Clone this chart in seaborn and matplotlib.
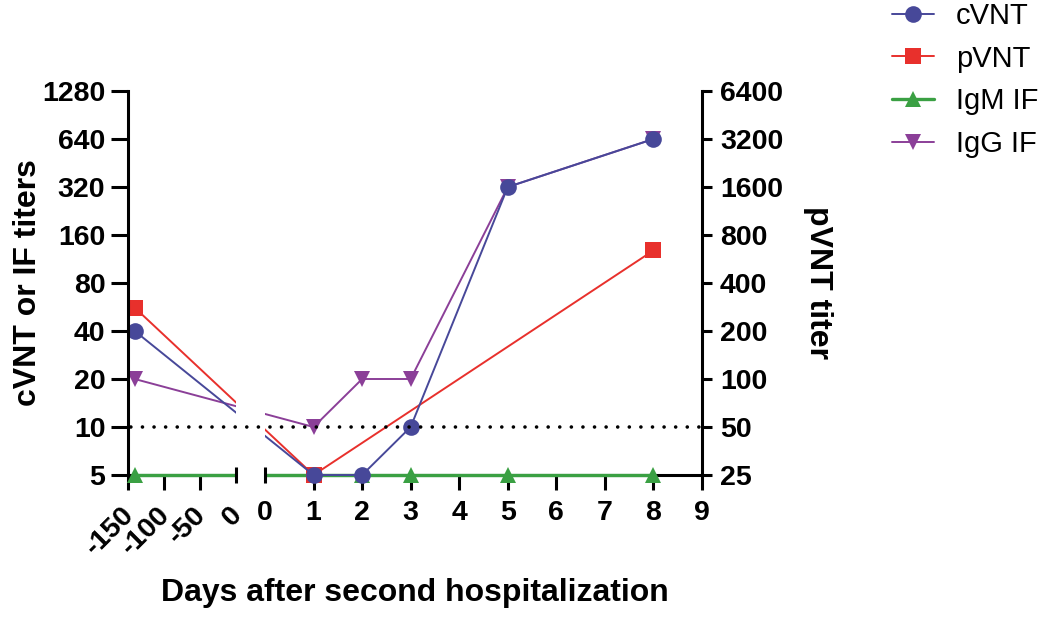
import numpy as np
import pandas as pd
import matplotlib
matplotlib.use("Agg")
import matplotlib.pyplot as plt
import matplotlib.transforms as mtransforms
from matplotlib.patches import Rectangle
from matplotlib.ticker import NullLocator
import seaborn as sns

# data
series_names = ["cVNT", "pVNT", "IgM IF", "IgG IF"]
cvnt_days = [-140, 1, 2, 3, 5, 8]
cvnt_titer = [40, 5, 5, 10, 320, 640]
pvnt_days = [-140, 1, 8]
pvnt_titer = [280, 25, 640]
igm_days = [-140, 1, 2, 3, 5, 8]
igm_titer = [5, 5, 5, 5, 5, 5]
igg_days = [-140, 1, 2, 3, 5, 8]
igg_titer = [20, 10, 20, 20, 320, 640]

left_x_ticks = [-150, -100, -50, 0]
right_x_ticks = [0, 1, 2, 3, 4, 5, 6, 7, 8, 9]
left_y_ticks = [5, 10, 20, 40, 80, 160, 320, 640, 1280]
right_y_ticks = [25, 50, 100, 200, 400, 800, 1600, 3200, 6400]
cutoff = 10
pvnt_factor = 5  # right axis is 5x the left axis

colors = {"cVNT": "#474899", "pVNT": "#e8302c", "IgM IF": "#3aa043", "IgG IF": "#8b3f98"}
markers = {"cVNT": "o", "pVNT": "s", "IgM IF": "^", "IgG IF": "v"}

# broken x axis: two segments laid out side by side
W_LEFT, W_GAP, W_RIGHT = 108.5, 29.0, 437.0


def pos_left(d):
    return (d + 150) / 150 * W_LEFT


def pos_right(d):
    return W_LEFT + W_GAP + d / 9 * W_RIGHT


def pos(d):
    return pos_left(d) if d < 0 else pos_right(d)


rows = []
for name, days, vals, scale in [
    ("cVNT", cvnt_days, cvnt_titer, 1),
    ("pVNT", pvnt_days, pvnt_titer, pvnt_factor),
    ("IgM IF", igm_days, igm_titer, 1),
    ("IgG IF", igg_days, igg_titer, 1),
]:
    for d, v in zip(days, vals):
        rows.append({"series": name, "day": d, "pos": pos(d), "val": v / scale})
df = pd.DataFrame(rows)

sns.set_theme(style="ticks")
plt.rcParams["font.family"] = ["Liberation Sans", "DejaVu Sans"]
plt.rcParams["axes.linewidth"] = 2.2
plt.rcParams["text.color"] = "black"
plt.rcParams["axes.labelcolor"] = "black"
plt.rcParams["xtick.color"] = "black"
plt.rcParams["ytick.color"] = "black"

fig = plt.figure(figsize=(10.55, 6.17), dpi=100)
ax = fig.add_axes([127.5 / 1055, 142 / 617, 574.5 / 1055, 384 / 617])

draw_order = ["IgG IF", "IgM IF", "pVNT", "cVNT"]
sns.lineplot(data=df, x="pos", y="val", hue="series", style="series",
             hue_order=draw_order, style_order=draw_order, palette=colors,
             markers=markers, dashes=False, markersize=12, markeredgewidth=0,
             linewidth=1.4, sort=False, estimator=None, clip_on=False, ax=ax)
for line in ax.lines:
    if line.get_color() == colors["IgM IF"]:
        line.set_linewidth(2.4)

ax.set_yscale("log", base=2)
ax.set_ylim(5, 1280)
ax.set_yticks(left_y_ticks)
ax.set_yticklabels([str(v) for v in left_y_ticks])
ax.yaxis.set_minor_locator(NullLocator())
ax.set_xlim(0, W_LEFT + W_GAP + W_RIGHT)

xt = [pos_left(d) for d in left_x_ticks] + [pos_right(d) for d in right_x_ticks]
ax.set_xticks(xt)
ax.set_xticklabels([str(d) for d in left_x_ticks] + [str(d) for d in right_x_ticks])
ticks = ax.xaxis.get_major_ticks()
ticks[len(left_x_ticks) - 1].tick1line.set_visible(False)
ticks[len(left_x_ticks)].tick1line.set_visible(False)

ax.tick_params(axis="y", length=12, width=2.2, pad=4, labelsize=20.5, color="black")
ax.tick_params(axis="x", length=11, width=2.2, pad=7, labelsize=20.5, color="black")
shift = mtransforms.ScaledTranslation(-5 / 72, -1 / 72, fig.dpi_scale_trans)
for i, lab in enumerate(ax.get_xticklabels()):
    lab.set_fontweight("bold")
    if i < len(left_x_ticks):
        lab.set_rotation(45)
        lab.set_ha("right")
        lab.set_va("top")
        lab.set_rotation_mode("anchor")
        lab.set_transform(lab.get_transform() + shift)
for lab in ax.get_yticklabels():
    lab.set_fontweight("bold")

for s in ["top", "right", "bottom"]:
    ax.spines[s].set_visible(False)
ax.spines["left"].set_color("black")

# bottom axis segments with caps at the break
blend = mtransforms.blended_transform_factory(ax.transData, ax.transAxes)
ax.plot([pos_left(-150), pos_left(0)], [0, 0], color="black", lw=2.2,
        transform=blend, clip_on=False, zorder=1.5, solid_capstyle="butt")
ax.plot([pos_right(0), pos_right(9)], [0, 0], color="black", lw=2.2,
        transform=blend, clip_on=False, zorder=1.5, solid_capstyle="butt")
ax.add_patch(Rectangle((pos_left(0), -0.03), W_GAP, 1.03, transform=blend,
                       facecolor="white", edgecolor="none", zorder=3, clip_on=False))
for u in [pos_left(0), pos_right(0)]:
    ax.plot([u, u], [-0.021, 0.021], color="black", lw=2.2, transform=blend,
            clip_on=False, zorder=4, solid_capstyle="butt")

ax.axhline(cutoff, color="black", lw=2.6, linestyle=(-4, (0.01, 3.2)),
           dash_capstyle="round", zorder=5)

ax2 = ax.twinx()
ax2.set_yscale("log", base=2)
ax2.set_ylim(25, 6400)
ax2.set_yticks(right_y_ticks)
ax2.set_yticklabels([str(v) for v in right_y_ticks])
ax2.yaxis.set_minor_locator(NullLocator())
ax2.tick_params(axis="y", length=7, width=2.2, pad=6, labelsize=20.5, color="black")
for lab in ax2.get_yticklabels():
    lab.set_fontweight("bold")
for s in ["top", "left", "bottom"]:
    ax2.spines[s].set_visible(False)
ax2.spines["right"].set_color("black")

ax.set_xlabel("Days after second hospitalization", fontsize=23, fontweight="bold", va="center")
ax.xaxis.set_label_coords(0.5, -0.308)
ax.set_ylabel("cVNT or IF titers", fontsize=23, fontweight="bold", va="center")
ax.yaxis.set_label_coords(-0.173, 0.5)
ax2.set_ylabel("pVNT titer", fontsize=23, fontweight="bold", rotation=270, va="center")
ax2.yaxis.set_label_coords(1.202, 0.5)

handles, labels = ax.get_legend_handles_labels()
hmap = dict(zip(labels, handles))
ax.legend([hmap[n] for n in series_names], series_names, loc="upper left",
          bbox_to_anchor=(892 / 1055, 1 - 2 / 617), bbox_transform=fig.transFigure,
          frameon=False, fontsize=21, handlelength=1.45, handletextpad=0.75,
          labelspacing=0.5, borderpad=0, borderaxespad=0)

fig.savefig("out.png", dpi=100)
